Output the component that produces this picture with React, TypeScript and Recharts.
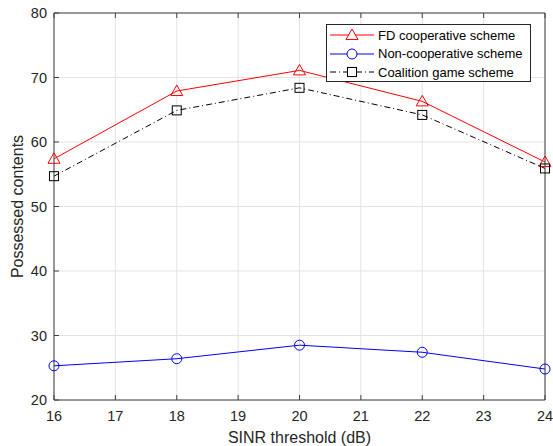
import React from "react";
import { LineChart, Line, XAxis, YAxis, CartesianGrid } from "recharts";

const xValues = [16, 18, 20, 22, 24];
const fdCoop = [57.4, 67.9, 71.1, 66.3, 56.9];
const nonCoop = [25.3, 26.4, 28.5, 27.4, 24.8];
const coalition = [54.7, 64.9, 68.4, 64.2, 55.9];
const xTicks = [16, 17, 18, 19, 20, 21, 22, 23, 24];
const yTicks = [20, 30, 40, 50, 60, 70, 80];
const seriesNames = ["FD cooperative scheme", "Non-cooperative scheme", "Coalition game scheme"];

const data = xValues.map((x, i) => ({ x, fd: fdCoop[i], non: nonCoop[i], coal: coalition[i] }));

const AXIS = "#404040";
const TEXT = "#262626";
const FONT = "'Liberation Sans', Arial, sans-serif";

const Tri = (props: any) => {
  const { cx, cy } = props;
  if (cx == null || cy == null) return null;
  return <path d={`M${cx},${cy - 6} L${cx + 6},${cy + 4.5} L${cx - 6},${cy + 4.5} Z`} fill="none" stroke="#ff0000" strokeWidth={1} />;
};
const Circ = (props: any) => {
  const { cx, cy } = props;
  if (cx == null || cy == null) return null;
  return <circle cx={cx} cy={cy} r={5} fill="none" stroke="#0000ff" strokeWidth={1} />;
};
const Sq = (props: any) => {
  const { cx, cy } = props;
  if (cx == null || cy == null) return null;
  return <rect x={cx - 4.5} y={cy - 4.5} width={9} height={9} fill="none" stroke="#000" strokeWidth={1} />;
};

const BottomTick = (props: any) => {
  const { x, y, payload } = props;
  return (
    <g>
      <line x1={x} y1={y} x2={x} y2={y - 5} stroke={AXIS} />
      <text x={x} y={y + 21} textAnchor="middle" fontSize={14.5} fill={TEXT} fontFamily={FONT}>{payload.value}</text>
    </g>
  );
};
const TopTick = (props: any) => {
  const { x, y } = props;
  return <line x1={x} y1={y} x2={x} y2={y + 5} stroke={AXIS} />;
};
const LeftTick = (props: any) => {
  const { x, y, payload } = props;
  return (
    <g>
      <line x1={x} y1={y} x2={x + 5} y2={y} stroke={AXIS} />
      <text x={x - 7} y={y + 5} textAnchor="end" fontSize={14.5} fill={TEXT} fontFamily={FONT}>{payload.value}</text>
    </g>
  );
};
const RightTick = (props: any) => {
  const { x, y } = props;
  return <line x1={x} y1={y} x2={x - 5} y2={y} stroke={AXIS} />;
};

const LegendBox = () => {
  const rows = [
    { name: seriesNames[0], color: "#ff0000", dash: undefined, mark: "tri" },
    { name: seriesNames[1], color: "#0000ff", dash: undefined, mark: "circ" },
    { name: seriesNames[2], color: "#000000", dash: "6 3 1 3", mark: "sq" },
  ];
  return (
    <div style={{ position: "absolute", left: 326, top: 24, width: 205, height: 58, border: "1px solid #262626", background: "#fff", boxSizing: "border-box", fontFamily: FONT, fontSize: 13, color: "#000", paddingTop: 1 }}>
      {rows.map((r, i) => (
        <div key={i} style={{ display: "flex", alignItems: "center", height: 18.5 }}>
          <svg width={46} height={14} style={{ marginLeft: 2, flex: "none" }}>
            <line x1={1} y1={7} x2={45} y2={7} stroke={r.color} strokeDasharray={r.dash} />
            {r.mark === "tri" && <path d="M23,1 L29,11.5 L17,11.5 Z" fill="#fff" stroke={r.color} />}
            {r.mark === "circ" && <circle cx={23} cy={7} r={5} fill="#fff" stroke={r.color} />}
            {r.mark === "sq" && <rect x={18.5} y={2.5} width={9} height={9} fill="#fff" stroke={r.color} />}
          </svg>
          <span style={{ marginLeft: 3, whiteSpace: "nowrap" }}>{r.name}</span>
        </div>
      ))}
    </div>
  );
};

export default function App() {
  return (
    <div style={{ position: "absolute", left: 0, top: 0, width: 553, height: 446, background: "#fff" }}>
      <LineChart width={553} height={446} data={data} margin={{ top: 12, right: 7, left: 0, bottom: 0 }}>
        <CartesianGrid xAxisId="b" yAxisId="l" stroke="#e3e3e3" verticalValues={xTicks} horizontalValues={yTicks} />
        <XAxis xAxisId="b" dataKey="x" type="number" domain={[16, 24]} ticks={xTicks} interval={0} height={46}
          axisLine={{ stroke: AXIS }} tickLine={false} tickSize={0} tickMargin={0} tick={<BottomTick />}
          label={{ value: "SINR threshold (dB)", position: "insideBottom", offset: 3, fontSize: 16, fill: TEXT, fontFamily: FONT }} />
        <XAxis xAxisId="t" dataKey="x" type="number" orientation="top" domain={[16, 24]} ticks={xTicks} interval={0} height={1}
          axisLine={{ stroke: AXIS }} tickLine={false} tickSize={0} tickMargin={0} tick={<TopTick />} />
        <YAxis yAxisId="l" type="number" domain={[20, 80]} ticks={yTicks} interval={0} width={54}
          axisLine={{ stroke: AXIS }} tickLine={false} tickSize={0} tickMargin={0} tick={<LeftTick />}
          label={{ value: "Possessed contents", angle: -90, position: "insideLeft", offset: 17, fontSize: 16, fill: TEXT, fontFamily: FONT, style: { textAnchor: "middle" } }} />
        <YAxis yAxisId="r" type="number" orientation="right" domain={[20, 80]} ticks={yTicks} interval={0} width={1}
          axisLine={{ stroke: AXIS }} tickLine={false} tickSize={0} tickMargin={0} tick={<RightTick />} />
        <Line xAxisId="b" yAxisId="l" dataKey="fd" name={seriesNames[0]} stroke="#ff0000" strokeWidth={1} dot={<Tri />} isAnimationActive={false} />
        <Line xAxisId="b" yAxisId="l" dataKey="non" name={seriesNames[1]} stroke="#0000ff" strokeWidth={1} dot={<Circ />} isAnimationActive={false} />
        <Line xAxisId="b" yAxisId="l" dataKey="coal" name={seriesNames[2]} stroke="#000000" strokeWidth={1} strokeDasharray="6 3 1 3" dot={<Sq />} isAnimationActive={false} />
      </LineChart>
      <LegendBox />
    </div>
  );
}
